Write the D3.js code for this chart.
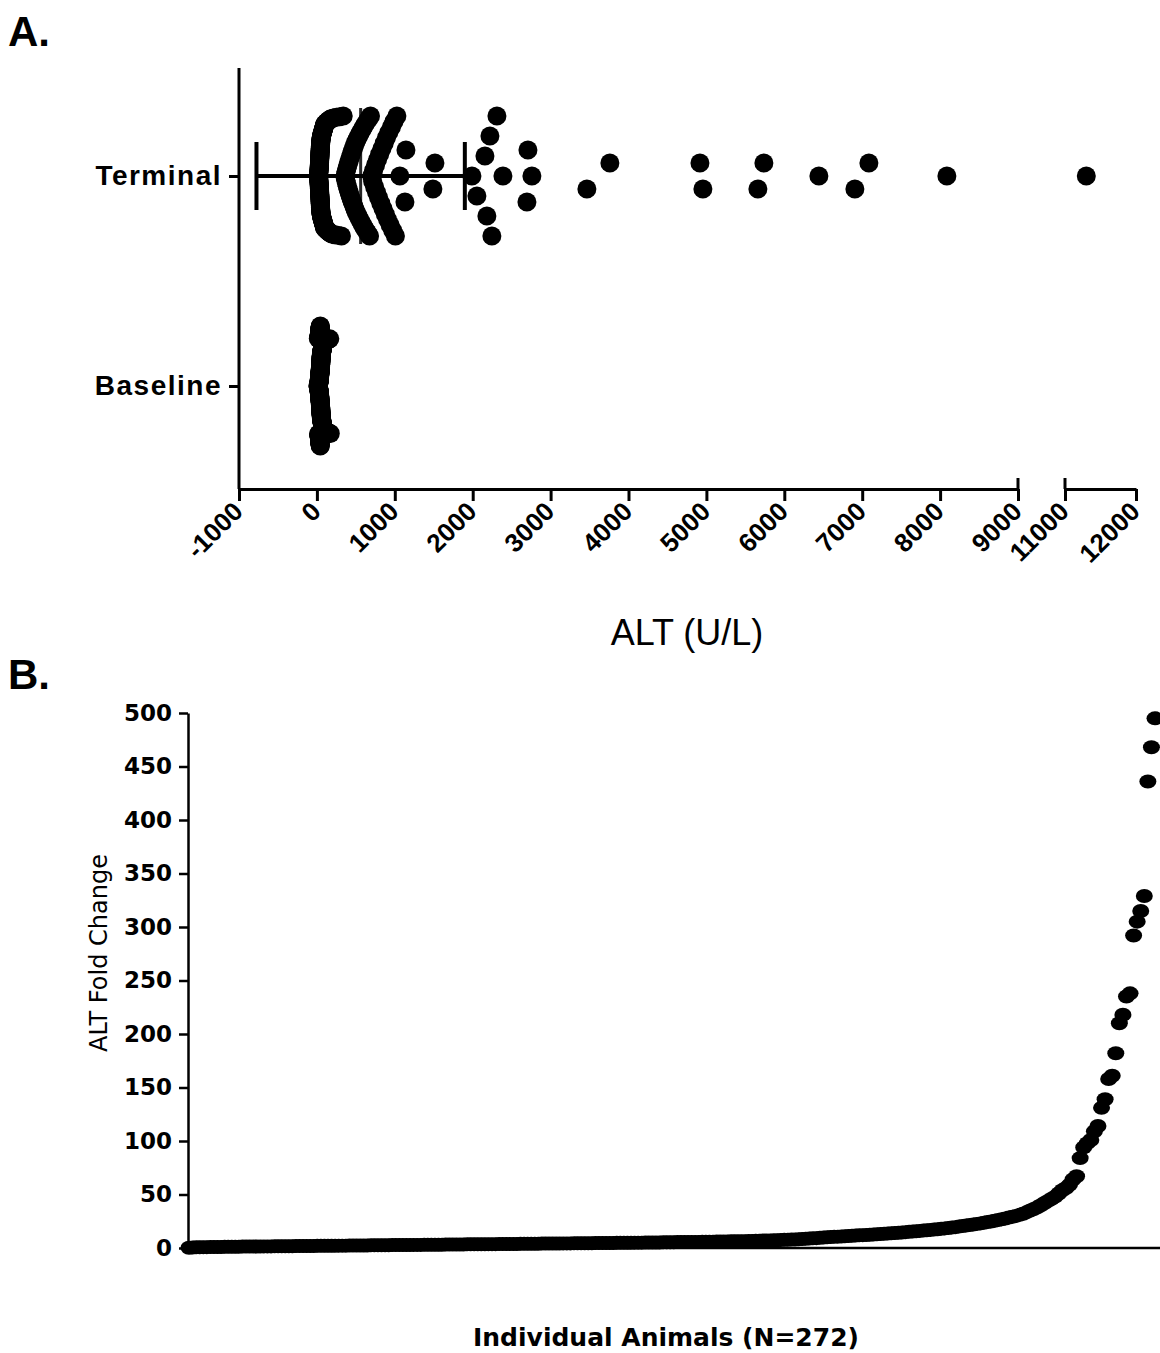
<!DOCTYPE html>
<html>
<head>
<meta charset="utf-8">
<script src="https://cdn.jsdelivr.net/npm/d3@7"></script>
<style>
  body { margin: 0; background: #fff; }
  svg { display: block; }
</style>
</head>
<body>
<div id="chart"></div>
<script>
// ---- data ----
const categories = ["Terminal", "Baseline"];

// terminal ALT (U/L), one value per animal (N=272), in entry order
const terminalALT = [
  18,19,20,21,22,22,23,23,24,24,25,25,25,26,26,26,27,27,27,28,28,28,29,29,29,30,30,30,30,31,
  31,31,31,32,32,32,32,33,33,33,33,34,34,34,34,35,35,35,35,36,36,36,36,37,37,37,37,38,38,38,
  38,39,39,39,39,39,40,40,40,40,
  41,41,41,41,42,42,42,42,43,43,43,43,44,44,44,44,45,45,45,45,46,46,46,47,47,47,48,48,48,49,
  49,49,50,50,50,51,51,52,52,53,53,54,54,55,55,56,57,58,59,60,
  61,62,62,64,65,66,68,69,70,71,72,74,75,76,77,78,80,81,82,83,85,86,87,88,90,91,92,93,94,95,
  96,97,98,99,100,
  104,108,112,117,121,126,130,135,139,144,149,154,159,165,170,175,180,
  192,210,228,248,268,290,315,338,
  362,366,371,375,380,385,390,396,401,407,412,418,424,430,437,443,450,456,463,470,477,484,491,498,
  506,515,525,534,544,553,563,573,583,594,603,615,627,639,651,663,676,688,
  704,716,728,741,753,766,779,792,806,820,835,849,864,878,893,908,924,940,957,973,990,1008,1027,
  1065,1130,1143,
  1489,1515,1990,2054,2157,2182,2221,2246,2311,2388,2696,2709,2760,3466,3761,
  4955,4917,5661,5738,6444,6906,7086,8087,11300
];

// baseline ALT (U/L), in entry order
const baselineALT = [
  15,16,17,18,19,20,21,22,22,23,23,24,24,25,25,26,26,27,27,28,28,29,29,30,30,30,
  31,31,31,32,32,32,32,33,33,33,34,34,34,34,35,35,35,35,36,36,36,36,37,37,37,38,38,38,38,
  39,39,39,40,40,40,40,41,41,41,42,42,42,42,43,43,43,44,44,44,
  45,45,45,45,45,46,46,46,46,46,47,47,47,47,47,48,48,48,48,48,49,49,49,49,49,
  50,50,50,50,50,51,51,51,51,51,52,52,52,52,52,53,53,53,53,53,54,54,54,54,
  55,55,55,55,56,56,56,56,57,57,57,57,58,58,58,58,59,59,59,60,60,
  61,61,62,62,63,63,64,64,65,65,66,66,67,67,68,68,69,69,70,70,
  71,71,72,72,73,73,74,74,75,75,76,76,77,77,78,78,79,79,80,80,
  82,84,86,88,90,93,95,98,101,104,107,110,
  115,121,128,134,140,147,153,160,166,172,
  18,21,24,25,25,26,27,28,28,29,29,30,30,30,30,31,31,31,32,32,32,33,33,33,34,34,34,
  35,35,36,36,36,37,37,37,37,38,38,38,39,39,39,40,40,40,41,41,41,42,42,42,43,43,43,44
];

const altTicksLow = [-1000, 0, 1000, 2000, 3000, 4000, 5000, 6000, 7000, 8000, 9000];
const altTicksHigh = [11000, 12000];

// ALT fold change (terminal / baseline), animals ranked low to high
const foldChange = [
  0.3,0.5,0.6,0.7,0.8,0.8,0.9,0.9,1.0,1.0,1.1,1.1,1.1,1.2,1.2,1.3,1.3,1.3,1.4,1.4,
  1.4,1.5,1.5,1.5,1.6,1.6,1.6,1.7,1.7,1.7,1.8,1.8,1.8,1.9,1.9,1.9,2.0,2.0,2.0,2.1,
  2.1,2.1,2.2,2.2,2.2,2.3,2.3,2.3,2.4,2.4,2.4,2.5,2.5,2.5,2.6,2.6,2.6,2.7,2.7,2.7,
  2.8,2.8,2.8,2.9,2.9,2.9,3.0,3.0,3.0,3.1,3.1,3.1,3.2,3.2,3.2,3.3,3.3,3.3,3.4,3.4,
  3.4,3.5,3.5,3.5,3.6,3.6,3.6,3.7,3.7,3.7,3.8,3.8,3.8,3.9,3.9,3.9,4.0,4.0,4.0,4.1,
  4.1,4.1,4.2,4.2,4.2,4.3,4.3,4.3,4.4,4.4,4.4,4.5,4.5,4.5,4.6,4.6,4.6,4.7,4.7,4.7,
  4.8,4.8,4.8,4.9,4.9,5.0,5.0,5.0,5.1,5.1,5.2,5.2,5.2,5.3,5.3,5.4,5.4,5.5,5.5,5.5,
  5.6,5.6,5.7,5.7,5.8,5.8,5.9,5.9,6.0,6.0,6.1,6.1,6.2,6.2,6.3,6.4,6.4,6.5,6.6,6.7,
  6.8,6.9,7.0,7.1,7.2,7.3,7.4,7.6,7.7,7.9,8.0,8.2,8.4,8.6,8.8,9.0,9.2,9.5,9.7,10.0,
  10.2,10.4,10.6,10.8,11.0,11.2,11.4,11.6,11.8,12.0,12.2,12.4,12.6,12.8,13.0,13.3,13.5,13.8,14.0,14.3,
  14.5,14.8,15.1,15.4,15.7,16.0,16.3,16.6,16.9,17.2,17.5,17.9,18.3,18.7,19.1,19.5,20.0,20.5,21.0,21.5,
  22.0,22.5,23.0,23.6,24.2,24.8,25.5,26.2,26.9,27.6,28.4,29.2,30.0,31.0,32.0,33.5,35.0,36.5,38.0,40.0,
  42,44,46,48,51,54,56,59,64,67,84,94,98,101,109,114,131,139,158,161,
  182,210,218,235,238,292,305,315,329,436,468,495
];
const foldTicks = [0, 50, 100, 150, 200, 250, 300, 350, 400, 450, 500];

// ---- page ----
const W = 1160, H = 1353;
const fontA = "'Liberation Sans', Arial, sans-serif";
const fontB = "'DejaVu Sans', sans-serif";

const svg = d3.select("#chart").append("svg")
    .attr("width", W).attr("height", H)
    .style("font-family", fontA);

svg.append("rect").attr("width", W).attr("height", H).attr("fill", "#fff");

// ================= Panel A =================
const gA = svg.append("g");

const xLow = d3.scaleLinear().domain([-1000, 9000]).range([239, 1018]);
const xHigh = d3.scaleLinear().domain([11000, 12000]).range([1065, 1136]);
const xALT = v => v <= 9000 ? xLow(v) : xHigh(v);
const yCat = d3.scalePoint().domain(categories).range([176, 386]);
const axisYA = 489;

// column scatter: values close in x share a column; inside a column the points
// keep entry order and go centre, below, above, further below, ...
function spreadPoints(values, binPx, maxStep, maxHalf) {
    const order = d3.range(values.length).sort((a, b) => values[a] - values[b]);
    const binOf = new Array(values.length);
    const bins = [];
    order.forEach(i => {
        const px = xALT(values[i]);
        const last = bins[bins.length - 1];
        if (last && px - last.start < binPx) last.n++;
        else bins.push({ start: px, n: 1, k: 0 });
        binOf[i] = bins.length - 1;
    });
    return values.map((v, i) => {
        const b = bins[binOf[i]];
        const n = b.n, k = b.k++;
        const step = n > 1 ? Math.min(maxStep, 2 * maxHalf / (n - 1)) : 0;
        let slot;
        if (n % 2) slot = k === 0 ? 0 : Math.ceil(k / 2) * (k % 2 ? 1 : -1);
        else slot = (Math.floor(k / 2) + 0.5) * (k % 2 ? -1 : 1);
        return { v: v, dy: slot * step };
    });
}

const groups = [
    { name: "Terminal", values: terminalALT },
    { name: "Baseline", values: baselineALT }
];

groups.forEach(g => {
    const pts = spreadPoints(g.values, 26, 26, 60);
    gA.append("g").selectAll("circle")
        .data(pts)
        .join("circle")
        .attr("cx", d => xALT(d.v))
        .attr("cy", d => yCat(g.name) + d.dy)
        .attr("r", 9.5)
        .attr("fill", "#000");

    // mean +/- SD
    const m = d3.mean(g.values), sd = d3.deviation(g.values);
    const cy = yCat(g.name);
    const eb = gA.append("g").attr("stroke", "#000");
    eb.append("line")
        .attr("x1", xALT(m - sd)).attr("x2", xALT(m + sd))
        .attr("y1", cy).attr("y2", cy).attr("stroke-width", 4);
    [m - sd, m + sd].forEach(v => {
        eb.append("line")
            .attr("x1", xALT(v)).attr("x2", xALT(v))
            .attr("y1", cy - 34).attr("y2", cy + 34).attr("stroke-width", 4);
    });
    eb.append("line")
        .attr("x1", xALT(m)).attr("x2", xALT(m))
        .attr("y1", cy - 68).attr("y2", cy + 68).attr("stroke-width", 3)
        .attr("stroke-opacity", 0.85);
});

// y axis (categories)
gA.append("line")
    .attr("x1", 239).attr("x2", 239).attr("y1", 68).attr("y2", axisYA)
    .attr("stroke", "#000").attr("stroke-width", 3);

const yAxA = gA.append("g")
    .attr("transform", "translate(239,0)")
    .call(d3.axisLeft(yCat).tickSize(10).tickPadding(7));
yAxA.select(".domain").remove();
yAxA.selectAll(".tick line").attr("stroke-width", 3);
yAxA.selectAll(".tick text")
    .style("font-family", fontA)
    .style("font-size", "28px").style("font-weight", "bold")
    .style("letter-spacing", "1.5px").attr("fill", "#000");

// broken x axis
function altAxis(scale, ticks) {
    const g = gA.append("g")
        .attr("transform", `translate(0,${axisYA})`)
        .call(d3.axisBottom(scale).tickValues(ticks).tickSize(12).tickSizeOuter(0)
            .tickFormat(d => String(d)));
    g.select(".domain").attr("stroke-width", 3);
    g.selectAll(".tick line").attr("stroke-width", 3);
    g.selectAll(".tick text")
        .attr("x", 0).attr("y", 0).attr("dy", 0)
        .attr("transform", "translate(5,24) rotate(-45)")
        .style("text-anchor", "end")
        .style("font-family", fontA)
        .style("font-size", "26px").style("font-weight", "bold")
        .attr("fill", "#000");
    return g;
}
altAxis(xLow, altTicksLow);
altAxis(xHigh, altTicksHigh);

// break ends reach above the axis line
[xLow(9000), xHigh(11000)].forEach(x => {
    gA.append("line")
        .attr("x1", x).attr("x2", x).attr("y1", axisYA - 11).attr("y2", axisYA)
        .attr("stroke", "#000").attr("stroke-width", 3);
});

gA.append("text")
    .attr("x", 687).attr("y", 645)
    .attr("text-anchor", "middle")
    .style("font-size", "36px")
    .text("ALT (U/L)");

svg.append("text").attr("x", 8).attr("y", 46)
    .style("font-size", "42px").style("font-weight", "bold")
    .text("A.");

// ================= Panel B =================
const gB = svg.append("g").style("font-family", fontB);

const xRank = d3.scaleLinear().domain([1, foldChange.length]).range([189, 1155]);
const yFold = d3.scaleLinear().domain([0, 500]).range([1248, 713]);

gB.append("g").selectAll("ellipse")
    .data(foldChange)
    .join("ellipse")
    .attr("cx", (d, i) => xRank(i + 1))
    .attr("cy", d => yFold(d))
    .attr("rx", 8.5).attr("ry", 7)
    .attr("fill", "#000");

const yAxB = gB.append("g")
    .attr("transform", "translate(188,0)")
    .call(d3.axisLeft(yFold).tickValues(foldTicks).tickSize(9).tickPadding(7).tickSizeOuter(0));
yAxB.select(".domain").attr("stroke-width", 2.5);
yAxB.selectAll(".tick line").attr("stroke-width", 2.5);
yAxB.selectAll(".tick text")
    .style("font-size", "23px").style("font-weight", "bold")
    .style("font-family", fontB)
    .attr("fill", "#000");

gB.append("line")
    .attr("x1", 188).attr("x2", W).attr("y1", yFold(0)).attr("y2", yFold(0))
    .attr("stroke", "#000").attr("stroke-width", 2.5);

gB.append("text")
    .attr("transform", "translate(107,953) rotate(-90)")
    .attr("text-anchor", "middle")
    .style("font-size", "24px")
    .text("ALT Fold Change");

gB.append("text")
    .attr("x", 666).attr("y", 1346)
    .attr("text-anchor", "middle")
    .style("font-size", "25px").style("font-weight", "bold")
    .text("Individual Animals (N=272)");

svg.append("text").attr("x", 8).attr("y", 689)
    .style("font-size", "42px").style("font-weight", "bold")
    .text("B.");
</script>
</body>
</html>
